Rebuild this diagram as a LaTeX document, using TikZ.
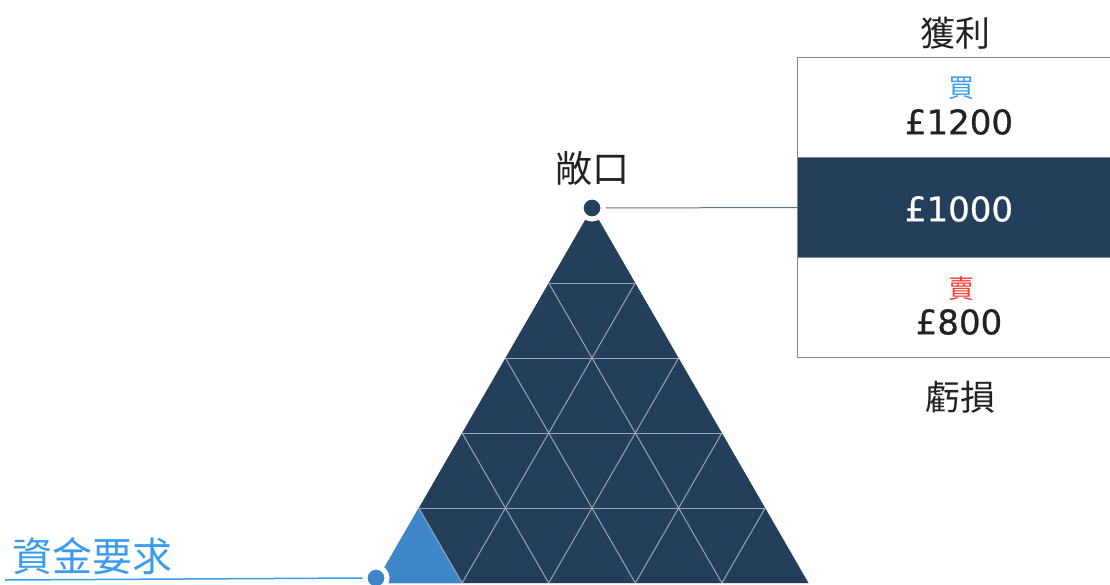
\documentclass[tikz,border=0pt]{standalone}
\usepackage{fontspec}
\newfontfamily\cjk{Noto Sans CJK TC}
\newfontfamily\num[FakeBold=0.6]{DejaVu Sans}
\definecolor{navy}{HTML}{243F5B}
\definecolor{lblue}{HTML}{3D87C8}
\definecolor{skyblue}{HTML}{3A9CF0}
\definecolor{gridc}{HTML}{97A5B5}
\definecolor{connc}{HTML}{5E7288}
\definecolor{boxc}{HTML}{7A8898}
\definecolor{txt}{HTML}{222222}
\definecolor{redc}{HTML}{FF3B30}
\tikzset{
  dotnode/.style={circle, draw=white, line width=5pt, inner sep=0pt, minimum size=22pt},
  band/.style={rectangle, draw=boxc, line width=1pt, minimum width=323pt, minimum height=100pt, anchor=north west, inner sep=0pt},
  cjklabel/.style={font=\cjk\fontsize{35}{38}\selectfont, text=txt, inner sep=0pt},
  price/.style={font=\num\fontsize{34}{38}\selectfont, inner sep=0pt},
  tag/.style={font=\cjk\fontsize{26}{28}\selectfont, inner sep=0pt},
  conn/.style={draw=connc, line width=1pt},
  gridline/.style={draw=gridc, line width=1pt}
}
\begin{document}
\begin{tikzpicture}[x=1pt,y=-1pt]
\useasboundingbox (0,0) rectangle (1110,585);
% triangle
\coordinate (A) at (592,208);
\coordinate (L) at (375.5,583);
\coordinate (R) at (808.5,583);
\fill[navy] (A) -- (L) -- (R) -- cycle;
\fill[lblue] (375.5,583) -- (418.8,508) -- (462.1,583) -- cycle;
\begin{scope}
\clip (A) -- (L) -- (R) -- cycle;
\foreach \k in {1,...,5} {
  \draw[gridline] (0,208+75*\k) -- (1110,208+75*\k);
}
\foreach \j in {1,...,4} {
  \draw[gridline] (375.5+86.6*\j,583) -- (592+86.6*\j,208);
  \draw[gridline] (375.5+86.6*\j,583) -- (159+86.6*\j,208);
}
\end{scope}
% box
\node[band, fill=white] (upper) at (797,57) {};
\node[band, fill=navy] (mid) at (797,157) {};
\node[band, fill=white] (lower) at (797,257) {};
% dots and connectors
\node[dotnode, fill=navy] (top) at (592,208) {};
\draw[conn] (top.east) -- (mid.west);
\node[dotnode, fill=lblue] (bdot) at (376,578) {};
\coordinate (lend) at (5,580);
\draw[draw=skyblue, line width=1.5pt] (bdot.west) -- (lend);
% texts
\node[cjklabel, font=\cjk\fontsize{37}{40}\selectfont] (expo) at (592,168) {敞口};
\node[cjklabel] (gain) at (955,33) {獲利};
\node[cjklabel] (loss) at (960,397) {虧損};
\node[font=\cjk\fontsize{40}{44}\selectfont, text=skyblue, inner sep=0pt, anchor=west] (req) at (12,556) {資金要求};
\node[tag, text=skyblue] (buy) at (961,88) {買};
\node[price, text=txt] (p1200) at (959,122) {£1200};
\node[price, text=white] (p1000) at (959,209) {£1000};
\node[tag, text=redc] (sell) at (961,289) {賣};
\node[price, text=txt] (p800) at (959,322) {£800};
\end{tikzpicture}
\end{document}
